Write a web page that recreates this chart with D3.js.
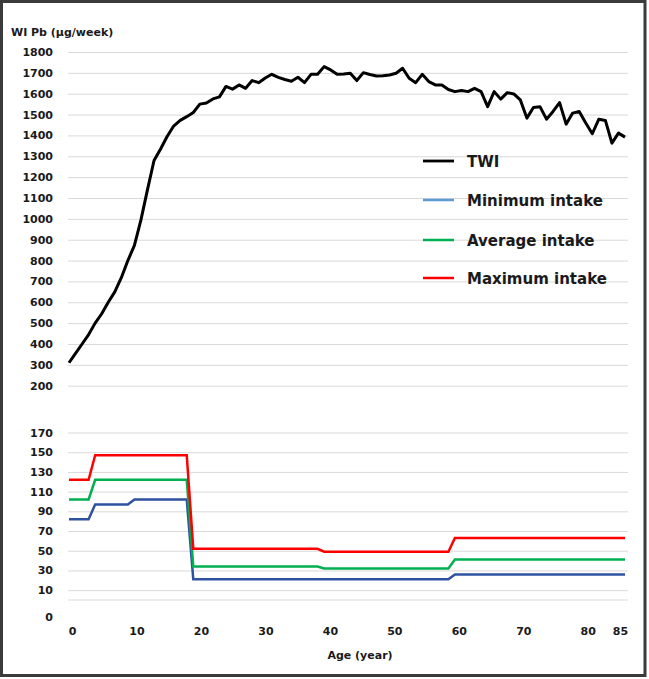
<!DOCTYPE html>
<html>
<head>
<meta charset="utf-8">
<script src="https://cdn.jsdelivr.net/npm/d3@7"></script>
<style>
  html, body { margin: 0; padding: 0; background: #ffffff; }
  svg { display: block; }
</style>
</head>
<body>
<svg id="chart" width="649" height="679"></svg>
<script>
// ---------------- DATA ----------------
const ages = [0,1,2,3,4,5,6,7,8,9,10,11,12,13,14,15,16,17,18,19,20,21,22,23,24,25,26,27,28,29,
  30,31,32,33,34,35,36,37,38,39,40,41,42,43,44,45,46,47,48,49,50,51,52,53,54,55,56,57,58,59,
  60,61,62,63,64,65,66,67,68,69,70,71,72,73,74,75,76,77,78,79,80,81,82,83,84,85];

// Tolerable weekly intake (TWI) of Pb, µg/week
const twi = [310,355,400,445,500,545,600,650,718,800,873,995,1140,1280,1335,1395,1445,1472,1490,1510,
  1550,1555,1575,1585,1635,1622,1642,1626,1663,1653,1675,1693,1678,1668,1660,1679,1653,1693,1693,1730,
  1714,1693,1695,1698,1663,1701,1692,1685,1686,1690,1698,1722,1674,1653,1693,1658,1642,1642,1620,1610,
  1615,1610,1626,1610,1538,1610,1574,1605,1599,1570,1483,1534,1538,1478,1515,1557,1454,1507,1515,1460,
  1408,1478,1472,1363,1411,1392];

// Weekly intake of Pb, µg/week
const minIntake = [82,82,82,82,97,97,97,97,97,97,102,102,102,102,102,102,102,102,102,21,
  21,21,21,21,21,21,21,21,21,21,21,21,21,21,21,21,21,21,21,21,
  21,21,21,21,21,21,21,21,21,21,21,21,21,21,21,21,21,21,21,26,
  26,26,26,26,26,26,26,26,26,26,26,26,26,26,26,26,26,26,26,26,26,26,26,26,26,26];
const avgIntake = [102,102,102,102,122,122,122,122,122,122,122,122,122,122,122,122,122,122,122,34,
  34,34,34,34,34,34,34,34,34,34,34,34,34,34,34,34,34,34,34,32,
  32,32,32,32,32,32,32,32,32,32,32,32,32,32,32,32,32,32,32,41,
  41,41,41,41,41,41,41,41,41,41,41,41,41,41,41,41,41,41,41,41,41,41,41,41,41,41];
const maxIntake = [122,122,122,122,147,147,147,147,147,147,147,147,147,147,147,147,147,147,147,52,
  52,52,52,52,52,52,52,52,52,52,52,52,52,52,52,52,52,52,52,49,
  49,49,49,49,49,49,49,49,49,49,49,49,49,49,49,49,49,49,49,63,
  63,63,63,63,63,63,63,63,63,63,63,63,63,63,63,63,63,63,63,63,63,63,63,63,63,63];

const seriesNames = ["TWI", "Minimum intake", "Average intake", "Maximum intake"];
const topTicks = [200,300,400,500,600,700,800,900,1000,1100,1200,1300,1400,1500,1600,1700,1800];
const bottomTicks = [10,30,50,70,90,110,130,150,170];
const xTicks = [0,10,20,30,40,50,60,70,80,85];
const yTitle = "WI Pb (µg/week)";
const xTitle = "Age (year)";

// ---------------- LAYOUT ----------------
const svg = d3.select("#chart");
const plotLeft = 68, plotRight = 628;

const x = d3.scaleLinear().domain([0, 85]).range([69, 625]);
const xAxisScale = d3.scaleLinear().domain([0, 85]).range([72, 620]);
const yTop = d3.scaleLinear().domain([200, 1800]).range([385.7, 52]);
const yBot = d3.scaleLinear().domain([0, 170]).range([600, 432.5]);

const tickFont = "'DejaVu Sans', Verdana, sans-serif";
const textColor = "#1a1a1a";
const gridColor = "#d9d9d9";

// outer frame
svg.append("rect")
  .attr("x", 1.5).attr("y", 1.5)
  .attr("width", 643.5).attr("height", 674)
  .attr("fill", "#ffffff")
  .attr("stroke", "#3b3b3b")
  .attr("stroke-width", 3);

function styleAxis(g) {
  g.select(".domain").remove();
  g.selectAll(".tick line").attr("stroke", gridColor).attr("stroke-width", 1);
  g.selectAll(".tick text")
    .attr("fill", textColor)
    .style("font-family", tickFont)
    .style("font-size", "11px")
    .style("font-weight", "bold");
}

// top y axis with grid
svg.append("g")
  .attr("transform", `translate(${plotLeft},0)`)
  .call(d3.axisLeft(yTop).tickValues(topTicks).tickSize(-(plotRight - plotLeft)).tickPadding(15).tickFormat(d3.format("d")))
  .call(styleAxis);

// bottom y axis with grid
svg.append("g")
  .attr("transform", `translate(${plotLeft},0)`)
  .call(d3.axisLeft(yBot).tickValues(bottomTicks).tickSize(-(plotRight - plotLeft)).tickPadding(15).tickFormat(d3.format("d")))
  .call(styleAxis);

// baseline gridline at 0 and its detached "0" label
svg.append("line")
  .attr("x1", plotLeft).attr("x2", plotRight)
  .attr("y1", yBot(0)).attr("y2", yBot(0))
  .attr("stroke", gridColor).attr("stroke-width", 1);
svg.append("text")
  .attr("x", plotLeft - 15).attr("y", yBot(0) + 17).attr("dy", "0.32em")
  .attr("text-anchor", "end")
  .attr("fill", textColor)
  .style("font-family", tickFont).style("font-size", "11px").style("font-weight", "bold")
  .text("0");

// x axis labels
svg.append("g")
  .attr("transform", `translate(0,624)`)
  .call(d3.axisBottom(xAxisScale).tickValues(xTicks).tickSize(0).tickPadding(3).tickFormat(d3.format("d")))
  .call(styleAxis);

// titles
svg.append("text")
  .attr("x", 11).attr("y", 36)
  .attr("fill", textColor)
  .style("font-family", tickFont).style("font-size", "11px").style("font-weight", "bold")
  .text(yTitle);
svg.append("text")
  .attr("x", 360).attr("y", 659)
  .attr("text-anchor", "middle")
  .attr("fill", textColor)
  .style("font-family", tickFont).style("font-size", "11px").style("font-weight", "bold")
  .text(xTitle);

// lines
const lineTop = d3.line().x((d, i) => x(ages[i])).y(d => yTop(d));
const lineBot = d3.line().x((d, i) => x(ages[i])).y(d => yBot(d));

const colors = { twi: "#000000", min: "#2F52A0", avg: "#00B050", max: "#FF0000" };
const legendColors = ["#000000", "#5B9BD5", "#00B050", "#FF0000"];

svg.append("path").datum(minIntake).attr("d", lineBot)
  .attr("fill", "none").attr("stroke", colors.min).attr("stroke-width", 2.5);
svg.append("path").datum(avgIntake).attr("d", lineBot)
  .attr("fill", "none").attr("stroke", colors.avg).attr("stroke-width", 2.5);
svg.append("path").datum(maxIntake).attr("d", lineBot)
  .attr("fill", "none").attr("stroke", colors.max).attr("stroke-width", 2.5);
svg.append("path").datum(twi).attr("d", lineTop)
  .attr("fill", "none").attr("stroke", colors.twi).attr("stroke-width", 3)
  .attr("stroke-linejoin", "round");

// legend
const legendY = [161, 200, 240, 278];
const leg = svg.append("g");
seriesNames.forEach((name, i) => {
  leg.append("line")
    .attr("x1", 423).attr("x2", 454)
    .attr("y1", legendY[i]).attr("y2", legendY[i])
    .attr("stroke", legendColors[i]).attr("stroke-width", i === 0 ? 2.8 : 2.5);
  leg.append("text")
    .attr("x", 467).attr("y", legendY[i] + 1).attr("dy", "0.35em")
    .attr("fill", textColor)
    .style("font-family", tickFont)
    .style("font-size", "15px").style("font-weight", "bold")
    .text(name);
});
</script>
</body>
</html>
